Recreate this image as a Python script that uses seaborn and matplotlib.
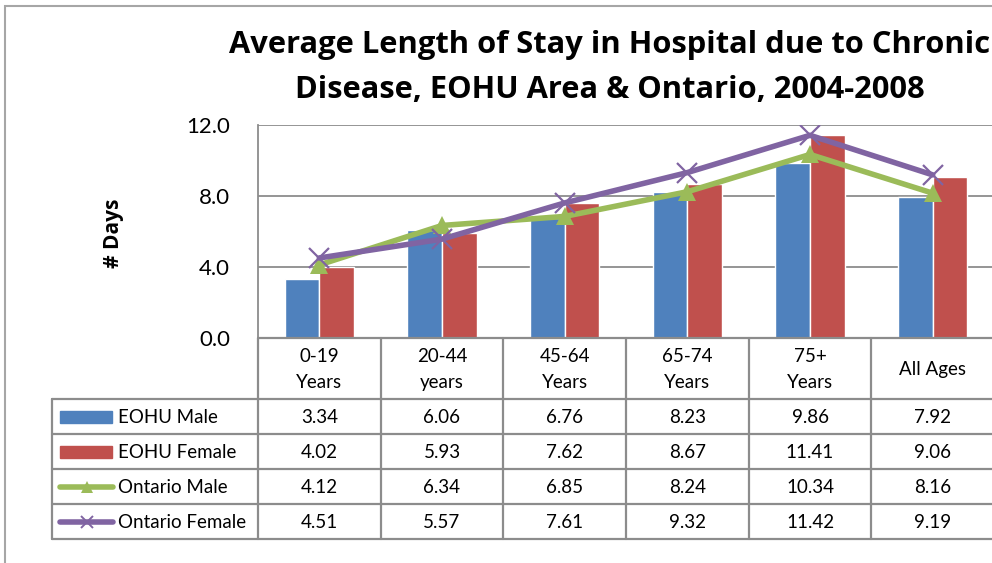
import matplotlib
matplotlib.use('Agg')
import matplotlib.pyplot as plt
import seaborn as sns
import pandas as pd
import numpy as np
from matplotlib.lines import Line2D
from matplotlib.patches import Rectangle

# ---- data ----
categories = ["0-19\nYears", "20-44\nyears", "45-64\nYears", "65-74\nYears", "75+\nYears", "All Ages"]
eohu_male = [3.34, 6.06, 6.76, 8.23, 9.86, 7.92]
eohu_female = [4.02, 5.93, 7.62, 8.67, 11.41, 9.06]
ontario_male = [4.12, 6.34, 6.85, 8.24, 10.34, 8.16]
ontario_female = [4.51, 5.57, 7.61, 9.32, 11.42, 9.19]
series_names = ["EOHU Male", "EOHU Female", "Ontario Male", "Ontario Female"]
y_ticks = [0.0, 4.0, 8.0, 12.0]
title_lines = ["Average Length of Stay in Hospital due to Chronic",
               "Disease, EOHU Area & Ontario, 2004-2008"]
y_label = "# Days"

BLUE, RED, GREEN, PURPLE = "#4F81BD", "#C0504D", "#9BBB59", "#8064A2"
GRID = "#8C8C8C"

sns.set_theme(style="white")
plt.rcParams['font.family'] = ['Lato', 'DejaVu Sans']
plt.rcParams['text.color'] = 'black'
plt.rcParams['ytick.color'] = 'black'
BOLD_FAMILY = ['Open Sans', 'DejaVu Sans']

W, H = 992, 563
fig = plt.figure(figsize=(W / 100, H / 100), dpi=100)


def fx(px):
    return px / W


def fy(py):
    return 1 - py / H


# outer chart frame (extends beyond the right/bottom edge)
fig.patches.append(Rectangle((fx(5), fy(700)), 2.0, (700 - 6) / H, transform=fig.transFigure,
                             fill=False, edgecolor="#A6A6A6", linewidth=1.5))

# ---- main plot ----
L, R, T, B = 258, 994, 125, 338
ax = fig.add_axes([fx(L), fy(B), (R - L) / W, (B - T) / H])

df = pd.DataFrame({
    "cat": categories * 2,
    "val": eohu_male + eohu_female,
    "series": [series_names[0]] * len(categories) + [series_names[1]] * len(categories),
})
sns.barplot(data=df, x="cat", y="val", hue="series", order=categories,
            hue_order=series_names[:2], palette=[BLUE, RED], width=0.565,
            gap=0, saturation=1, errorbar=None, legend=False, ax=ax, zorder=2)

sns.pointplot(x=categories, y=ontario_male, order=categories, color=GREEN,
              marker="^", markersize=13, linewidth=4, markeredgewidth=0,
              errorbar=None, ax=ax, zorder=4)
sns.pointplot(x=categories, y=ontario_female, order=categories, color=PURPLE,
              marker="x", markersize=14, linewidth=4, markeredgewidth=1.6,
              errorbar=None, ax=ax, zorder=5)

ax.set_xlim(-0.5, len(categories) - 0.5)
ax.set_ylim(0, 12)
ax.set_yticks(y_ticks)
ax.set_yticklabels([f"{v:.1f}" for v in y_ticks], fontsize=16)
ax.tick_params(axis="y", length=0, pad=20, labelcolor="black")
ax.tick_params(axis="x", length=0, labelbottom=False)
ax.set_xlabel("")
ax.set_ylabel("")
ax.yaxis.grid(True, color=GRID, linewidth=1.3)
ax.set_axisbelow(True)
for s in ["top", "right", "bottom"]:
    ax.spines[s].set_visible(False)
ax.spines["left"].set_color(GRID)
ax.spines["left"].set_linewidth(1.3)

fig.text(fx(113), fy(233), y_label, rotation=90, ha="center", va="center",
         fontsize=15, fontweight="bold", family=BOLD_FAMILY)
for k, (line, yc) in enumerate(zip(title_lines, [45, 90])):
    fig.text(fx(610), fy(yc), line, ha="center", va="center", fontsize=22.2,
             fontweight="bold", family=BOLD_FAMILY)

# ---- data table ----
TL = 52
TB = 539
tax = fig.add_axes([fx(TL), fy(TB), (R - TL) / W, (TB - B) / H])
tax.set_xlim(TL, R)
tax.set_ylim(TB, B)
tax.axis("off")

ncat = len(categories)
colw = (R - L) / ncat
col_edges = [L + i * colw for i in range(ncat + 1)]
row_edges = [B, 399, 434, 469, 504, 539]
lw = 1.6
# horizontal lines
tax.plot([L, R], [B, B], color=GRID, lw=lw, clip_on=False)
for yv in row_edges[1:]:
    tax.plot([TL, R], [yv, yv], color=GRID, lw=lw, clip_on=False)
# vertical lines
for xv in col_edges:
    tax.plot([xv, xv], [B, TB], color=GRID, lw=lw, clip_on=False)
tax.plot([TL, TL], [row_edges[1], TB], color=GRID, lw=lw, clip_on=False)

# header
for i, c in enumerate(categories):
    tax.text(col_edges[i] + colw / 2, (row_edges[0] + row_edges[1]) / 2 + 1, c,
             ha="center", va="center", fontsize=13.5, linespacing=1.6)

all_series = [eohu_male, eohu_female, ontario_male, ontario_female]
for r, vals in enumerate(all_series):
    yc = (row_edges[r + 1] + row_edges[r + 2]) / 2
    for i, v in enumerate(vals):
        tax.text(col_edges[i] + colw / 2, yc + 1, f"{v:.2f}", ha="center",
                 va="center", fontsize=13.5)
    tax.text(118, yc + 1, series_names[r], ha="left", va="center", fontsize=13.5)

# legend keys
yk = [(row_edges[k + 1] + row_edges[k + 2]) / 2 for k in range(4)]
tax.add_patch(Rectangle((60, yk[0] - 6), 52, 12, color=BLUE, clip_on=False))
tax.add_patch(Rectangle((60, yk[1] - 6), 52, 12, color=RED, clip_on=False))
tax.plot([60, 113], [yk[2], yk[2]], color=GREEN, lw=4, solid_capstyle="round", clip_on=False)
tax.plot([86.5], [yk[2]], marker="^", color=GREEN, markersize=9, mew=0, clip_on=False)
tax.plot([60, 113], [yk[3], yk[3]], color=PURPLE, lw=4, solid_capstyle="round", clip_on=False)
tax.plot([86.5], [yk[3]], marker="x", color=PURPLE, markersize=9, mew=1.4, clip_on=False)

fig.savefig("out.png", dpi=100)
